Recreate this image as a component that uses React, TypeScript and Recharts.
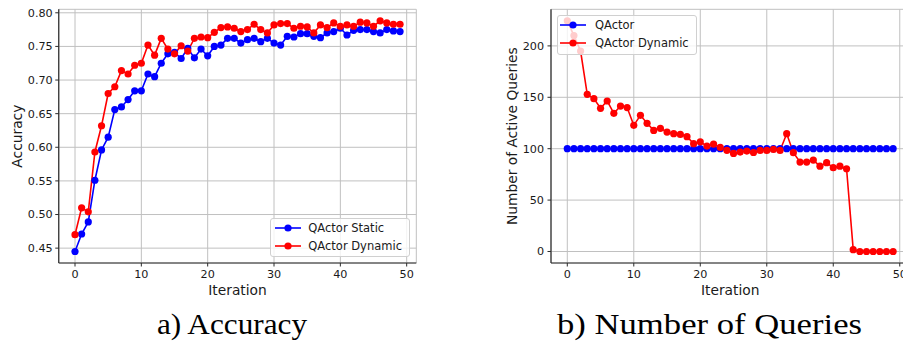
import React from 'react';
import { LineChart, Line, XAxis, YAxis, CartesianGrid, Legend, Label } from 'recharts';

const iterations = [
  0, 1, 2, 3, 4, 5, 6, 7, 8, 9, 10, 11, 12, 13, 14, 15, 16, 17, 18, 19, 20, 21, 22, 23, 24,
  25, 26, 27, 28, 29, 30, 31, 32, 33, 34, 35, 36, 37, 38, 39, 40, 41, 42, 43, 44, 45, 46, 47, 48, 49,
];

const accStatic = [
  0.445, 0.471, 0.489, 0.551, 0.596, 0.615, 0.656, 0.66, 0.671, 0.684, 0.684, 0.709, 0.705, 0.725,
  0.739, 0.741, 0.732, 0.747, 0.733, 0.746, 0.736, 0.75, 0.752, 0.762, 0.762, 0.755, 0.76, 0.762,
  0.757, 0.762, 0.755, 0.752, 0.765, 0.764, 0.769, 0.769, 0.765, 0.763, 0.77, 0.772, 0.777, 0.767,
  0.774, 0.775, 0.775, 0.772, 0.77, 0.775, 0.773, 0.772,
];

const accDynamic = [
  0.47, 0.51, 0.504, 0.593, 0.632, 0.68, 0.69, 0.714, 0.709, 0.722, 0.725, 0.752, 0.737, 0.762,
  0.746, 0.739, 0.751, 0.743, 0.762, 0.764, 0.763, 0.771, 0.778, 0.779, 0.777, 0.772, 0.775, 0.783,
  0.775, 0.77, 0.782, 0.784, 0.784, 0.777, 0.78, 0.779, 0.77, 0.782, 0.778, 0.785, 0.78, 0.782,
  0.78, 0.786, 0.785, 0.78, 0.788, 0.785, 0.783, 0.783,
];

const queriesStatic = [
  100, 100, 100, 100, 100, 100, 100, 100, 100, 100, 100, 100, 100, 100, 100, 100, 100, 100, 100, 100,
  100, 100, 100, 100, 100, 100, 100, 100, 100, 100, 100, 100, 100, 100, 100, 100, 100, 100, 100, 100,
  100, 100, 100, 100, 100, 100, 100, 100, 100, 100,
];

const queriesDynamic = [
  224.4, 210, 195, 152.9, 148.7, 139.3, 146.4, 134.4, 141.5, 140, 122.7, 132.5, 124.7, 117.8, 119.8,
  116.2, 114.6, 113.9, 111.7, 104.9, 106.7, 102.5, 104.5, 101.3, 98.4, 95.4, 96.7, 97.7, 96.3, 98.3,
  98.3, 99.3, 98.3, 114.6, 96.1, 87, 87, 88.9, 83, 86.4, 81.5, 83, 80.5, 1.8, 0, 0, 0, 0, 0, 0,
];

const iterTicks = [0, 10, 20, 30, 40, 50];
const accTicks = [0.45, 0.5, 0.55, 0.6, 0.65, 0.7, 0.75, 0.8];
const queryTicks = [0, 50, 100, 150, 200];

const accLegendLabels = ['QActor Static', 'QActor Dynamic'];
const queryLegendLabels = ['QActor', 'QActor Dynamic'];
const captions = ['a) Accuracy', 'b) Number of Queries'];
const xLabel = 'Iteration';
const accYLabel = 'Accuracy';
const queryYLabel = 'Number of Active Queries';

const BLUE = '#0000ff';
const RED = '#ff0000';
const SPINE = '#2b2b2b';
const GRID = '#c0c0c0';
const TEXT = '#1a1a1a';
const FONT = 'DejaVu Sans, sans-serif';
const DOT_R = 3.6;

const X_DOMAIN: [number, number] = [-2.45, 51.45];
const ACC_DOMAIN: [number, number] = [0.4279, 0.8052];
const Q_DOMAIN: [number, number] = [-11.2, 235.6];

const accData = iterations.map((it, i) => ({ it, s: accStatic[i], d: accDynamic[i] }));
const queryData = iterations.map((it, i) => ({ it, s: queriesStatic[i], d: queriesDynamic[i] }));

type LegendProps = {
  labels: string[];
  rowY: number[];
  sampleX: number;
  textX: number;
};

const MplLegend = ({ labels, rowY, sampleX, textX }: LegendProps) => (
  <div
    style={{
      position: 'relative',
      boxSizing: 'border-box',
      width: '100%',
      height: '100%',
      background: 'rgba(255,255,255,0.8)',
      border: '1px solid #d0d0d0',
      borderRadius: 3,
      fontFamily: FONT,
      fontSize: 11.5,
      color: TEXT,
    }}
  >
    {labels.map((l, i) => {
      const c = i === 0 ? BLUE : RED;
      return (
        <React.Fragment key={l}>
          <svg
            width={26}
            height={10}
            style={{ position: 'absolute', left: sampleX - 1, top: rowY[i] - 1 - 5 }}
          >
            <line x1={0} y1={5} x2={26} y2={5} stroke={c} strokeWidth={1.6} />
            <circle cx={13} cy={5} r={DOT_R} fill={c} />
          </svg>
          <span
            style={{
              position: 'absolute',
              left: textX - 1,
              top: rowY[i] - 1 - 8,
              lineHeight: '16px',
              whiteSpace: 'nowrap',
            }}
          >
            {l}
          </span>
        </React.Fragment>
      );
    })}
  </div>
);

const yLabelContent = (text: string, x: number) => (props: any) => {
  const vb = props.viewBox || { y: 0, height: 0 };
  const cy = vb.y + vb.height / 2;
  return (
    <text
      x={x}
      y={cy}
      transform={`rotate(-90, ${x}, ${cy})`}
      textAnchor="middle"
      dominantBaseline="central"
      fontFamily={FONT}
      fontSize={13.8}
      fill={TEXT}
    >
      {text}
    </text>
  );
};

const tickStyle = { fontFamily: FONT, fontSize: 11.2, fill: TEXT };

export default function App() {
  return (
    <div
      style={{
        position: 'fixed',
        left: 0,
        top: 0,
        width: 903,
        height: 343,
        overflow: 'hidden',
        background: '#ffffff',
      }}
    >
      <div style={{ position: 'absolute', left: 0, top: 0 }}>
        <LineChart
          width={430}
          height={300}
          data={accData}
          margin={{ top: 9.3, right: 13.7, bottom: 5, left: 0 }}
        >
          <CartesianGrid stroke={GRID} strokeWidth={1} />
          <XAxis
            dataKey="it"
            type="number"
            domain={X_DOMAIN}
            ticks={iterTicks}
            allowDataOverflow
            height={32}
            tickSize={3.5}
            tickMargin={4}
            tick={tickStyle}
            tickLine={{ stroke: SPINE }}
            axisLine={{ stroke: SPINE, strokeWidth: 1.2 }}
          >
            <Label
              value={xLabel}
              position="insideBottom"
              offset={0}
              style={{ fontFamily: FONT, fontSize: 13.8, fill: TEXT }}
            />
          </XAxis>
          <XAxis
            xAxisId="top"
            orientation="top"
            dataKey="it"
            type="number"
            domain={X_DOMAIN}
            height={0}
            tick={false}
            tickLine={false}
            axisLine={{ stroke: SPINE, strokeWidth: 1.2 }}
          />
          <YAxis
            type="number"
            domain={ACC_DOMAIN}
            ticks={accTicks}
            allowDataOverflow
            width={58.75}
            tickSize={3.5}
            tickMargin={2.5}
            tick={tickStyle}
            tickFormatter={(v: number) => v.toFixed(2)}
            tickLine={{ stroke: SPINE }}
            axisLine={{ stroke: SPINE, strokeWidth: 1.2 }}
          >
            <Label content={yLabelContent(accYLabel, 17)} />
          </YAxis>
          <YAxis
            yAxisId="right"
            orientation="right"
            domain={ACC_DOMAIN}
            width={0}
            tick={false}
            tickLine={false}
            axisLine={{ stroke: SPINE, strokeWidth: 1.2 }}
          />
          <Line
            dataKey="s"
            stroke={BLUE}
            strokeWidth={1.6}
            dot={{ r: DOT_R, fill: BLUE, stroke: 'none' }}
            isAnimationActive={false}
          />
          <Line
            dataKey="d"
            stroke={RED}
            strokeWidth={1.6}
            dot={{ r: DOT_R, fill: RED, stroke: 'none' }}
            isAnimationActive={false}
          />
          <Legend
            layout="vertical"
            align="center"
            verticalAlign="middle"
            wrapperStyle={{ left: 270, top: 218.3, width: 140, height: 38.4 }}
            content={() => (
              <MplLegend labels={accLegendLabels} rowY={[10, 27.7]} sampleX={4.7} textX={38.3} />
            )}
          />
        </LineChart>
      </div>

      <div style={{ position: 'absolute', left: 480, top: 0 }}>
        <LineChart
          width={440}
          height={300}
          data={queryData}
          margin={{ top: 9.3, right: 10.6, bottom: 5, left: 0 }}
        >
          <CartesianGrid stroke={GRID} strokeWidth={1} />
          <XAxis
            dataKey="it"
            type="number"
            domain={X_DOMAIN}
            ticks={iterTicks}
            allowDataOverflow
            height={32}
            tickSize={3.5}
            tickMargin={4}
            tick={tickStyle}
            tickLine={{ stroke: SPINE }}
            axisLine={{ stroke: SPINE, strokeWidth: 1.2 }}
          >
            <Label
              value={xLabel}
              position="insideBottom"
              offset={0}
              style={{ fontFamily: FONT, fontSize: 13.8, fill: TEXT }}
            />
          </XAxis>
          <XAxis
            xAxisId="top"
            orientation="top"
            dataKey="it"
            type="number"
            domain={X_DOMAIN}
            height={0}
            tick={false}
            tickLine={false}
            axisLine={{ stroke: SPINE, strokeWidth: 1.2 }}
          />
          <YAxis
            type="number"
            domain={Q_DOMAIN}
            ticks={queryTicks}
            allowDataOverflow
            width={71}
            tickSize={3.5}
            tickMargin={3.5}
            tick={tickStyle}
            tickLine={{ stroke: SPINE }}
            axisLine={{ stroke: SPINE, strokeWidth: 1.2 }}
          >
            <Label content={yLabelContent(queryYLabel, 31.7)} />
          </YAxis>
          <YAxis
            yAxisId="right"
            orientation="right"
            domain={Q_DOMAIN}
            width={0}
            tick={false}
            tickLine={false}
            axisLine={{ stroke: SPINE, strokeWidth: 1.2 }}
          />
          <Line
            dataKey="s"
            stroke={BLUE}
            strokeWidth={1.6}
            dot={{ r: DOT_R, fill: BLUE, stroke: 'none' }}
            isAnimationActive={false}
          />
          <Line
            dataKey="d"
            stroke={RED}
            strokeWidth={1.6}
            dot={{ r: DOT_R, fill: RED, stroke: 'none' }}
            isAnimationActive={false}
          />
          <Legend
            layout="vertical"
            align="center"
            verticalAlign="middle"
            wrapperStyle={{ left: 77.3, top: 15, width: 139.4, height: 40 }}
            content={() => (
              <MplLegend labels={queryLegendLabels} rowY={[10, 28.3]} sampleX={2.7} textX={37.7} />
            )}
          />
        </LineChart>
      </div>

      <svg
        width={903}
        height={43}
        style={{ position: 'absolute', left: 0, top: 300 }}
      >
        <text
          x={157}
          y={34}
          textLength={150}
          lengthAdjust="spacingAndGlyphs"
          fontFamily="Liberation Serif, serif"
          fontSize={29}
          fill="#000"
        >
          {captions[0]}
        </text>
        <text
          x={557}
          y={34}
          textLength={305}
          lengthAdjust="spacingAndGlyphs"
          fontFamily="Liberation Serif, serif"
          fontSize={29}
          fill="#000"
        >
          {captions[1]}
        </text>
      </svg>
    </div>
  );
}
